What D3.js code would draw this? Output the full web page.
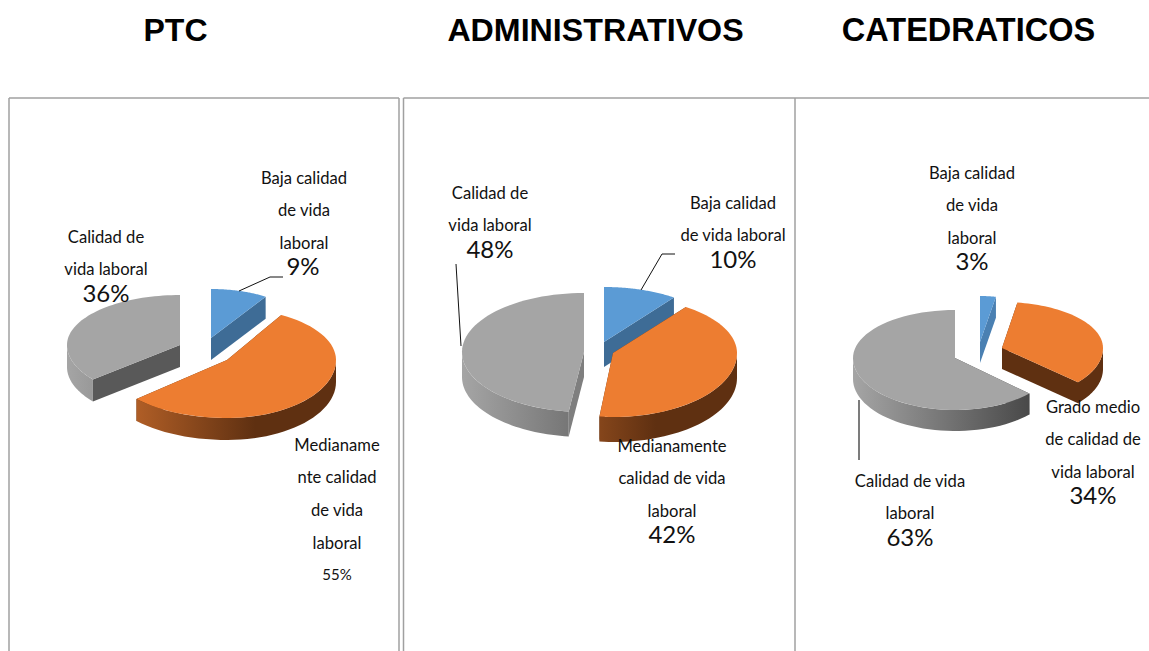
<!DOCTYPE html>
<html><head><meta charset="utf-8">
<script src="https://cdn.jsdelivr.net/npm/d3@7"></script>
<style>html,body{margin:0;background:#fff}svg{display:block}</style></head>
<body><svg id="c" width="1149" height="651"></svg>
<script>
// ---- data ----
const chartTitles = ["PTC", "ADMINISTRATIVOS", "CATEDRATICOS"];
const ptcValues = [9, 55, 36];
const adminValues = [10, 42, 48];
const catValues = [3, 34, 63];
const ptcLabels = [["Baja calidad","de vida","laboral"],["Medianame","nte calidad","de vida","laboral"],["Calidad de","vida laboral"]];
const adminLabels = [["Baja calidad","de vida laboral"],["Medianamente","calidad de vida","laboral"],["Calidad de","vida laboral"]];
const catLabels = [["Baja calidad","de vida","laboral"],["Grado medio","de calidad de","vida laboral"],["Calidad de vida","laboral"]];
const sliceColors = ["#5b9bd5", "#ed7d31", "#a5a5a5"];
const rimStops = [
  [[0,"#4a80b2"],[1,"#3e6c96"]],
  [[0,"#c56a2c"],[0.65,"#5f3011"],[1,"#5f3011"]],
  [[0,"#a5a5a5"],[0.9,"#454545"],[1,"#454545"]]
];

// ---- layout ----
const layouts = [
 { title:[175.5,30], titleSize:32, values:ptcValues, labels:ptcLabels, depth:22,
   slices:[{cx:211,cy:338,rx:102,up:49,down:49,face:"#3e6c96"},
           {cx:227,cy:360,rx:109,rxl:122,up:52,down:58,rot:-2.5,face:"#5f3011"},
           {cx:180,cy:345,rx:113,up:50,down:54,face:"#595959"}],
   text:[[304,177.7],[337,444.7],[106,236.7]], pct:[[303,265,24],[337,574,15],[106,292,24]],
   leaders:[[[239,291],[270,277],[283,277]]], leaderColor:"#111", leaderWidth:1 },
 { title:[595.5,30], titleSize:32.2, values:adminValues, labels:adminLabels, depth:25,
   slices:[{cx:604,cy:342,rx:119,up:55,down:55,face:"#3e6c96"},
           {cx:613,cy:353,rx:124,rxl:108,up:57,down:64,face:"#5f3011"},
           {cx:584,cy:352,rx:122,up:59,down:60,face:"#7f7f7f"}],
   text:[[733,202.7],[672,445.7],[490,192.7]], pct:[[733,258,24],[672,533,24],[490,248,24]],
   leaders:[[[641,290],[662,254],[675,254]],[[461,346],[456,264]]], leaderColor:"#111", leaderWidth:1 },
 { title:[968.5,30], titleSize:32.5, values:catValues, labels:catLabels, depth:21,
   slices:[{cx:980,cy:342,rx:85,up:46,down:46,face:"#4a80b2"},
           {cx:1002,cy:348,rx:101,up:46,down:52,rot:-2,face:"#5f3011"},
           {cx:955,cy:358,rx:102,up:48,down:52,face:"#454545"}],
   text:[[972,172.7],[1093,406.7],[910,480.7]], pct:[[972,260,24],[1093,494,24],[910,536,24]],
   leaders:[[[859,400],[859,460]]], leaderColor:"#505050", leaderWidth:1.5 }
];
const frameLines = [[9,98,399,98],[9,98,9,651],[399,98,399,651],[403.5,98,795,98],[403.5,98,403.5,651],[795,98,795,651],[795,98,1149,98]];

const svg = d3.select("#c");
const defs = svg.append("defs");
const font = "Lato, 'Open Sans', sans-serif";

svg.selectAll("line.frame").data(frameLines).join("line").attr("class","frame")
  .attr("x1",d=>d[0]).attr("y1",d=>d[1]).attr("x2",d=>d[2]).attr("y2",d=>d[3])
  .attr("stroke","#a0a0a0").attr("stroke-width",1.5);

const pie = d3.pie().sort(null).value(d=>d);

layouts.forEach((L,ci)=>{
  svg.append("text").attr("x",L.title[0]).attr("y",L.title[1]).attr("text-anchor","middle")
    .attr("dominant-baseline","central").attr("font-family","'Liberation Sans',Arial,sans-serif")
    .attr("font-weight","bold").attr("font-size",L.titleSize).text(chartTitles[ci]);

  const arcs = pie(L.values);
  const g = svg.append("g");
  const order = [0,2,1];
  order.forEach(i=>{
    const s = L.slices[i];
    const rot = (s.rot||0)*Math.PI/180;
    const a0 = arcs[i].startAngle+rot, a1 = arcs[i].endAngle+(i===2?0:rot);
    const rxl = s.rxl||s.rx;
    const pt = (t,dy=0)=>{const c=Math.cos(t),n=Math.sin(t);return [s.cx+(n>0?s.rx:rxl)*n, s.cy-(c>0?s.up:s.down)*c+dy];};
    const samples = d3.range(0,61).map(k=>a0+(a1-a0)*k/60);
    const line = d3.line();
    [a0,a1].forEach(t=>{
      g.append("path").attr("fill",s.face)
       .attr("d",line([[s.cx,s.cy],pt(t),pt(t,L.depth),[s.cx,s.cy+L.depth]])+"Z");
    });
    const lo=Math.max(a0,Math.PI/2), hi=Math.min(a1,Math.PI*1.5);
    if(hi>lo){
      const rimT=d3.range(0,41).map(k=>lo+(hi-lo)*k/40);
      const id=`rim${ci}${i}`;
      const grad=defs.append("linearGradient").attr("id",id).attr("gradientUnits","userSpaceOnUse")
        .attr("x1",s.cx-rxl).attr("x2",s.cx+s.rx).attr("y1",0).attr("y2",0);
      rimStops[i].forEach(st=>grad.append("stop").attr("offset",st[0]).attr("stop-color",st[1]));
      g.append("path").attr("fill",`url(#${id})`)
       .attr("d",line(rimT.map(t=>pt(t)).concat(rimT.slice().reverse().map(t=>pt(t,L.depth))))+"Z");
    }
    g.append("path").attr("fill",sliceColors[i])
     .attr("d",line([[s.cx,s.cy]].concat(samples.map(t=>pt(t))))+"Z");
  });

  g.selectAll("path.leader").data(L.leaders).join("path").attr("class","leader")
    .attr("fill","none").attr("stroke",L.leaderColor).attr("stroke-width",L.leaderWidth)
    .attr("d",d=>d3.line()(d));

  L.labels.forEach((lines,i)=>{
    lines.forEach((tx,k)=>{
      svg.append("text").attr("x",L.text[i][0]).attr("y",L.text[i][1]+k*32.7)
        .attr("text-anchor","middle").attr("dominant-baseline","central")
        .attr("font-family",font).attr("font-size",16.6).attr("fill","#111").text(tx);
    });
    const p=L.pct[i];
    svg.append("text").attr("x",p[0]).attr("y",p[1]).attr("text-anchor","middle")
      .attr("dominant-baseline","central").attr("font-family",font)
      .attr("font-size",p[2]).attr("fill","#111").text(L.values[i]+"%");
  });
});
</script></body></html>
